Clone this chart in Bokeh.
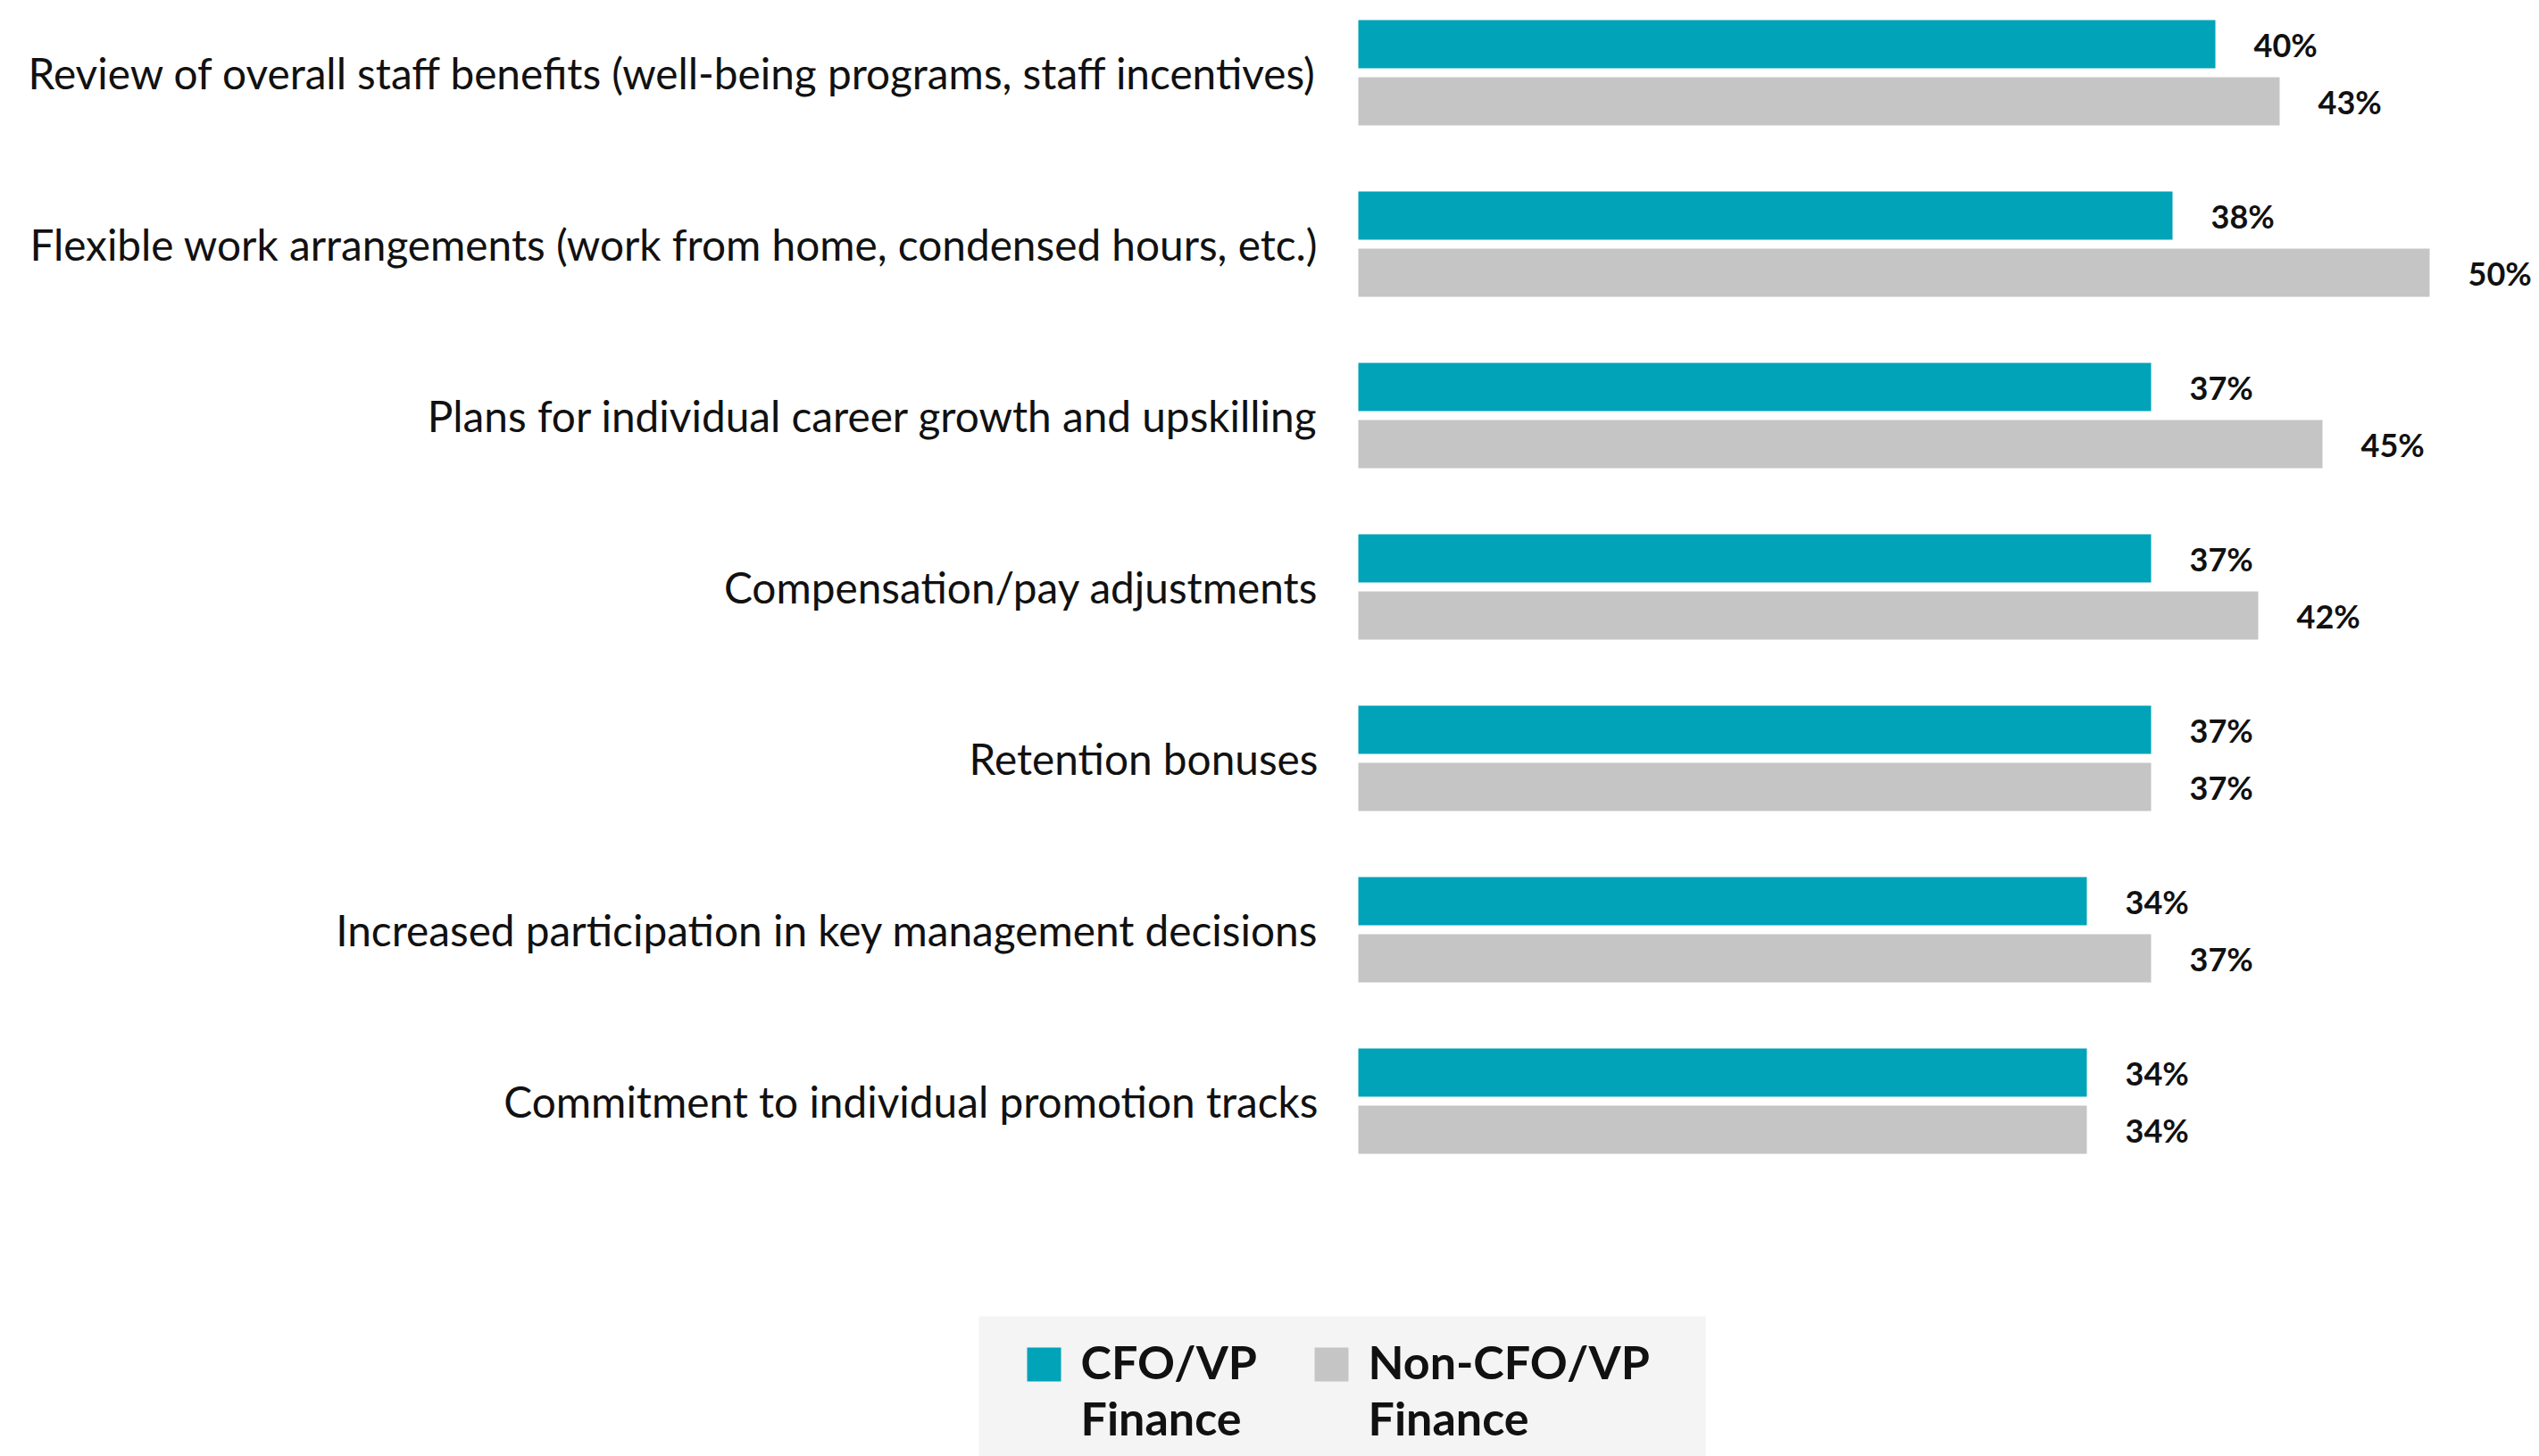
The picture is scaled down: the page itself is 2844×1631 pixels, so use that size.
from bokeh.plotting import figure
from bokeh.models import ColumnDataSource, Range1d, BoxAnnotation, Label
from bokeh.transform import dodge
from bokeh.core.properties import value
from bokeh.embed import file_html
from bokeh.resources import INLINE

categories = [
    "Review of overall staff benefits (well-being programs, staff incentives)",
    "Flexible work arrangements (work from home, condensed hours, etc.)",
    "Plans for individual career growth and upskilling",
    "Compensation/pay adjustments",
    "Retention bonuses",
    "Increased participation in key management decisions",
    "Commitment to individual promotion tracks",
]
cfo = [40, 38, 37, 37, 37, 34, 34]
non_cfo = [43, 50, 45, 42, 37, 37, 34]
series_names = ["CFO/VP\nFinance", "Non-CFO/VP\nFinance"]

TEAL = "#00A3B8"
GRAY = "#C5C5C5"
FONT = "Lato"

pos = list(range(len(categories)))
src = ColumnDataSource(dict(
    y=pos,
    zero=[0] * len(pos),
    cat=categories,
    cfo=cfo,
    non=non_cfo,
    cfo_lbl=[f"{v}%" for v in cfo],
    non_lbl=[f"{v}%" for v in non_cfo],
))

W, H = 2844, 1631
ORIGIN = 1521   # pixel column of the bars' zero
PX_PER_PCT = 24
CAT_PX = 192
TOP_CENTER = 81

p = figure(width=W, height=H, output_backend="svg", toolbar_location=None,
           x_range=Range1d(-ORIGIN / PX_PER_PCT, (W - ORIGIN) / PX_PER_PCT),
           y_range=Range1d((H - TOP_CENTER) / CAT_PX, -TOP_CENTER / CAT_PX),
           x_axis_location=None, y_axis_location=None,
           min_border_left=0, min_border_right=0,
           min_border_top=0, min_border_bottom=0)
p.outline_line_color = None
p.xgrid.visible = False
p.ygrid.visible = False
p.background_fill_color = "white"
p.border_fill_color = "white"

off = 32 / CAT_PX
bh = 54 / CAT_PX
r1 = p.hbar(y=dodge("y", -off), right="cfo", left=0, height=bh, source=src,
            fill_color=TEAL, line_color=None)
r2 = p.hbar(y=dodge("y", off), right="non", left=0, height=bh, source=src,
            fill_color=GRAY, line_color=None)

# category labels
p.text(x="zero", y="y", text="cat", source=src, x_offset=-45,
       text_baseline="middle", text_align="right", text_font=value(FONT),
       text_font_size="47.75px", text_color="#111111")

# value labels
p.text(x="cfo", y=dodge("y", -off), text="cfo_lbl", source=src, x_offset=43,
       text_baseline="middle", text_align="left", text_font=value(FONT),
       text_font_style="bold", text_font_size="36px", text_color="#111111")
p.text(x="non", y=dodge("y", off), text="non_lbl", source=src, x_offset=43,
       text_baseline="middle", text_align="left", text_font=value(FONT),
       text_font_style="bold", text_font_size="36px", text_color="#111111")

# legend (screen units, measured from the bottom-left of the frame)
LEG_LEFT, LEG_RIGHT, LEG_TOP = 1096, 1910, 157
p.add_layout(BoxAnnotation(left=LEG_LEFT, right=LEG_RIGHT, bottom=0, top=LEG_TOP,
                           left_units="screen", right_units="screen",
                           bottom_units="screen", top_units="screen",
                           fill_color="#F4F4F4", fill_alpha=1.0, line_color=None,
                           level="underlay"))
item_x = [1150, 1472]
for xs, color, name in zip(item_x, [TEAL, GRAY], series_names):
    p.add_layout(BoxAnnotation(left=xs, right=xs + 38, bottom=84, top=122,
                               left_units="screen", right_units="screen",
                               bottom_units="screen", top_units="screen",
                               fill_color=color, fill_alpha=1.0, line_color=None))
    for k, line in enumerate(name.split("\n")):
        p.add_layout(Label(x=xs + 60, y=107 - 63 * k, x_units="screen", y_units="screen",
                           text=line, text_font=FONT, text_font_style="bold",
                           text_font_size="52px", text_color="#111111",
                           text_baseline="alphabetic", text_align="left"))

open("out.html", "w").write(file_html(p, INLINE))
